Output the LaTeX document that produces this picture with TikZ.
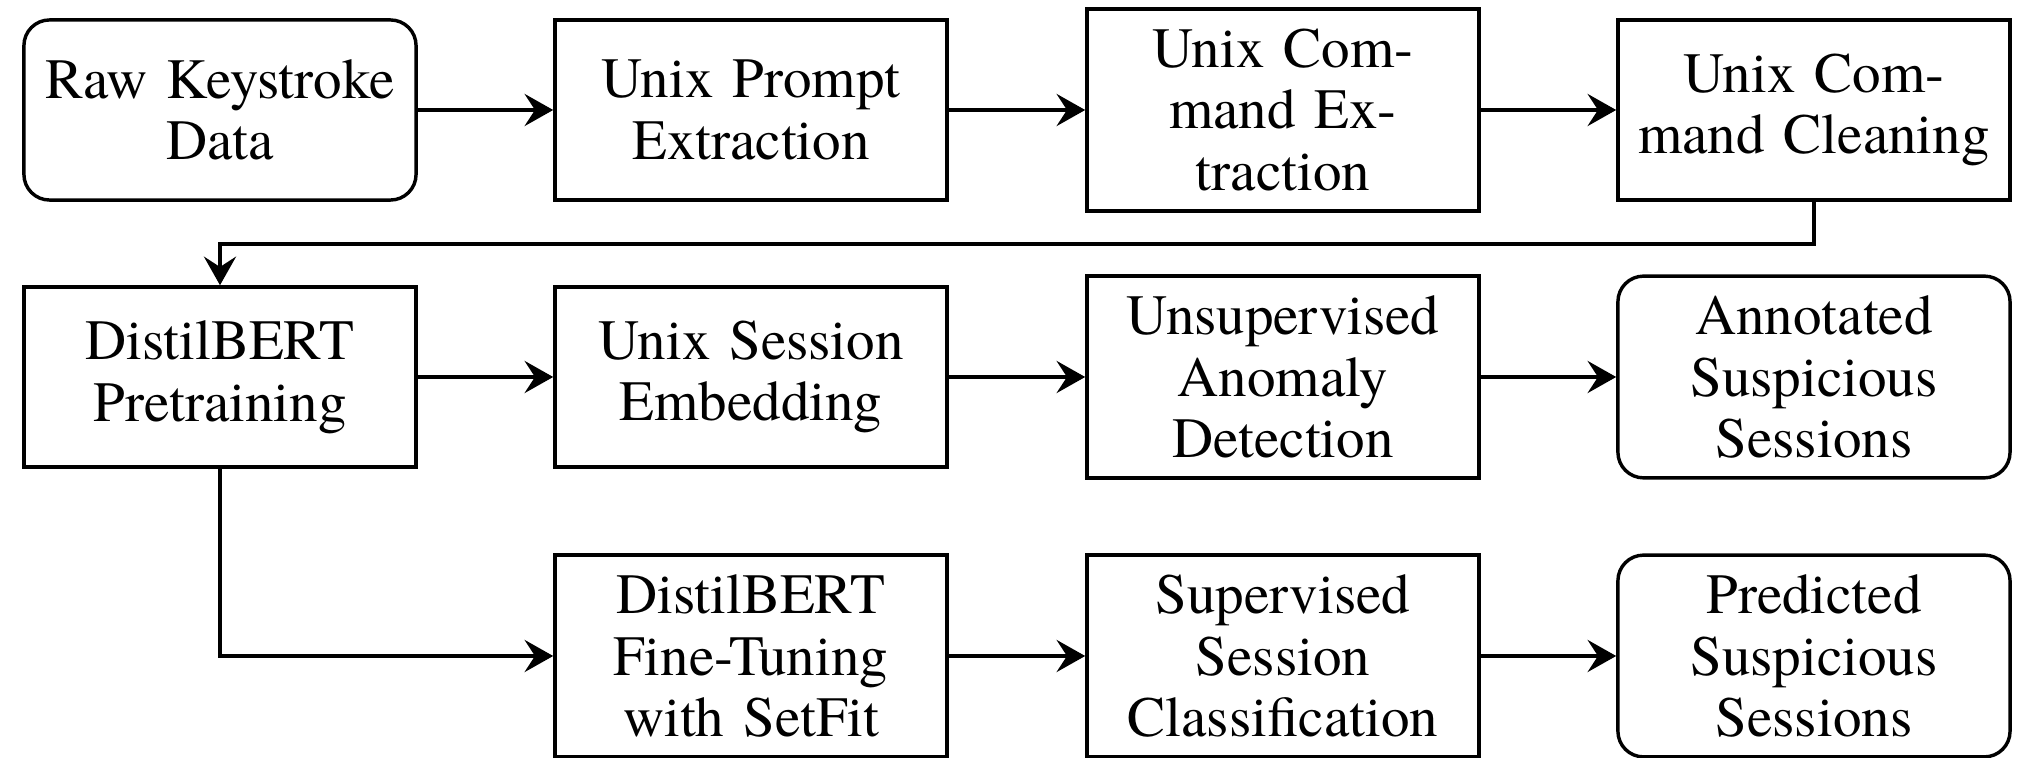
\documentclass[tikz,border=0pt]{standalone}
\usepackage{fontspec}
\setmainfont{texgyretermes}[Extension=.otf, UprightFont=*-regular, BoldFont=*-bold, ItalicFont=*-italic, BoldItalicFont=*-bolditalic]
\usetikzlibrary{arrows.meta}
\begin{document}
\begin{tikzpicture}[x=0.17544pt,y=-0.17544pt,
  box/.style={draw, semithick, align=center, text width=62.6pt, inner xsep=3.1pt, inner ysep=0pt,
    font=\fontsize{10pt}{10.8pt}\selectfont},
  short/.style={minimum height=31.6pt},
  tall/.style={minimum height=35.4pt},
  term/.style={rounded corners=4.5pt},
  flow/.style={thick, -{Stealth[length=5pt,width=5.6pt,inset=1.8pt]}}]
\useasboundingbox (0,0) rectangle (2022,758);
\node[box,short,term] (raw) at (220,110) {Raw Keystroke\\Data};
\node[box,short] (prompt) at (751,110) {Unix Prompt\\Extraction};
\node[box,tall] (cmdext) at (1283,110) {Unix Com-\\mand Ex-\\traction};
\node[box,short] (clean) at (1814,110) {Unix Com-\\mand Cleaning};
\node[box,short] (pre) at (220,377) {DistilBERT\\Pretraining};
\node[box,short] (emb) at (751,377) {Unix Session\\Embedding};
\node[box,tall] (anom) at (1283,377) {Unsupervised\\Anomaly\\Detection};
\node[box,tall,term] (annot) at (1814,377) {Annotated\\Suspicious\\Sessions};
\node[box,tall] (ft) at (751,656) {DistilBERT\\Fine-Tuning\\with SetFit};
\node[box,tall] (sup) at (1283,656) {Supervised\\Session\\Classification};
\node[box,tall,term] (pred) at (1814,656) {Predicted\\Suspicious\\Sessions};
\coordinate (mid) at (0,244);
\draw[flow] (raw) -- (prompt);
\draw[flow] (prompt) -- (cmdext);
\draw[flow] (cmdext) -- (clean);
\draw[flow] (clean.south) -- (clean.south |- mid) -- (pre.north |- mid) -- (pre.north);
\draw[flow] (pre) -- (emb);
\draw[flow] (emb) -- (anom);
\draw[flow] (anom) -- (annot);
\draw[flow] (pre.south) |- (ft.west);
\draw[flow] (ft) -- (sup);
\draw[flow] (sup) -- (pred);
\end{tikzpicture}
\end{document}
